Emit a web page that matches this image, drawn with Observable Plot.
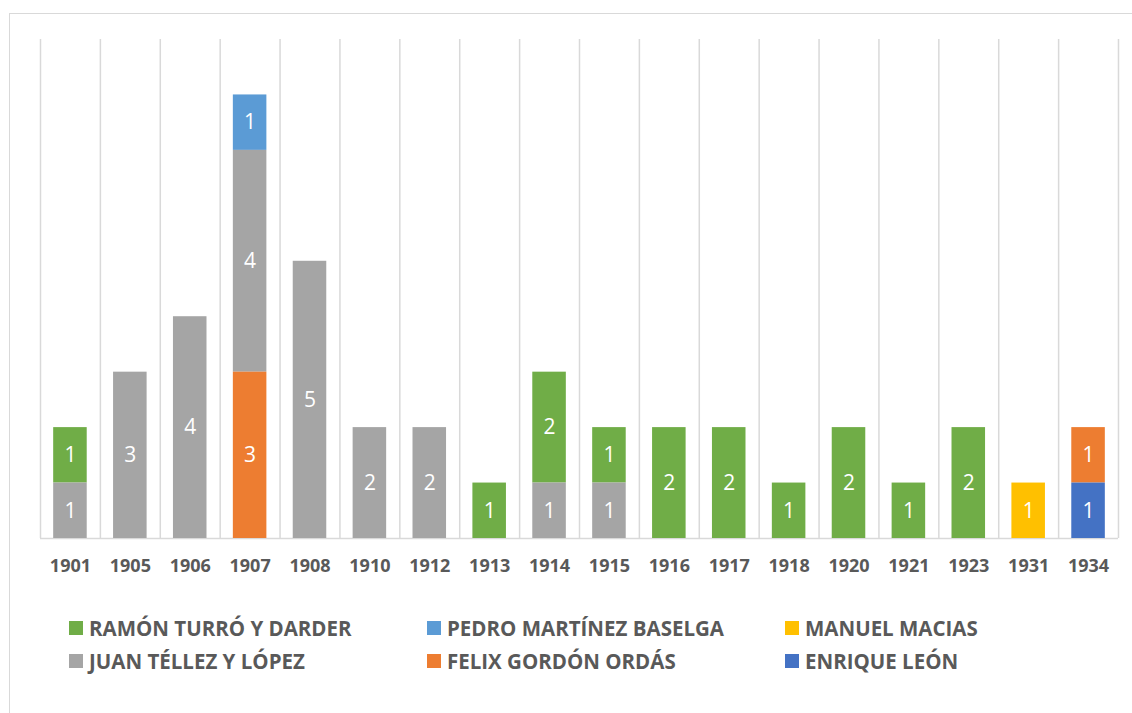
<!DOCTYPE html>
<html>
<head>
<meta charset="utf-8">
<script src="https://cdn.jsdelivr.net/npm/d3@7"></script>
<script src="https://cdn.jsdelivr.net/npm/@observablehq/plot@0.6"></script>
<style>
  html, body { margin: 0; padding: 0; background: #fff; overflow: hidden; width: 1132px; height: 713px; }
  #frame { position: absolute; left: 9px; top: 13px; width: 1140px; height: 720px; border: 1.5px solid #d9d9d9; box-sizing: border-box; }
  #chart { position: absolute; left: 0; top: 0; }
  .leg { position: absolute; font-family: "Open Sans", sans-serif; font-weight: bold; font-size: 20.5px; color: #595959; white-space: nowrap; display: flex; align-items: center; height: 30px; }
  .leg .sw { width: 14px; height: 14px; margin-right: 6px; flex: none; }
</style>
</head>
<body>
<div id="frame"></div>
<div id="chart"></div>
<div id="legend"></div>
<script>
const years = ["1901","1905","1906","1907","1908","1910","1912","1913","1914","1915","1916","1917","1918","1920","1921","1923","1931","1934"];

const seriesNames = ["RAMÓN TURRÓ Y DARDER", "PEDRO MARTÍNEZ BASELGA", "MANUEL MACIAS", "JUAN TÉLLEZ Y LÓPEZ", "FELIX GORDÓN ORDÁS", "ENRIQUE LEÓN"];
const seriesColors = ["#70AD47", "#5B9BD5", "#FFC000", "#A5A5A5", "#ED7D31", "#4472C4"];
// stacking order, bottom to top
const stackOrder = ["ENRIQUE LEÓN", "MANUEL MACIAS", "FELIX GORDÓN ORDÁS", "JUAN TÉLLEZ Y LÓPEZ", "RAMÓN TURRÓ Y DARDER", "PEDRO MARTÍNEZ BASELGA"];

const ramon   = [1,0,0,0,0,0,0,1,2,1,2,2,1,2,1,2,0,0];
const pedro   = [0,0,0,1,0,0,0,0,0,0,0,0,0,0,0,0,0,0];
const manuel  = [0,0,0,0,0,0,0,0,0,0,0,0,0,0,0,0,1,0];
const juan    = [1,3,4,4,5,2,2,0,1,1,0,0,0,0,0,0,0,0];
const felix   = [0,0,0,3,0,0,0,0,0,0,0,0,0,0,0,0,0,1];
const enrique = [0,0,0,0,0,0,0,0,0,0,0,0,0,0,0,0,0,1];

const yMax = 9;

const seriesValues = [ramon, pedro, manuel, juan, felix, enrique];
const table = [];
seriesNames.forEach((name, s) => {
  years.forEach((yr, i) => {
    const v = seriesValues[s][i];
    if (v > 0) table.push({year: yr, name, value: v});
  });
});

const W = 1132, H = 600, ML = 40, MR = 14, MT = 39, MB = 62;
const step = (W - ML - MR) / years.length;
const FONT = "Open Sans, sans-serif";

const chart = Plot.plot({
  width: W,
  height: H,
  marginLeft: ML,
  marginRight: MR,
  marginTop: MT,
  marginBottom: MB,
  style: {fontFamily: FONT, background: "transparent", overflow: "visible"},
  x: {domain: years, paddingInner: 0.44, paddingOuter: 0.22, round: false, label: null, tickSize: 0, tickPadding: 21},
  y: {domain: [0, yMax], axis: null},
  color: {domain: seriesNames, range: seriesColors},
  marks: [
    Plot.ruleX(years, {x: d => d, y1: 0, y2: yMax, stroke: "#d9d9d9", strokeWidth: 1.5, dx: -step / 2}),
    Plot.ruleX([years[years.length - 1]], {x: d => d, y1: 0, y2: yMax, stroke: "#d9d9d9", strokeWidth: 1.5, dx: step / 2}),
    Plot.ruleY([0], {stroke: "#d9d9d9", strokeWidth: 1.5}),
    Plot.barY(table, {x: "year", y: "value", fill: "name", order: stackOrder}),
    Plot.text(table, Plot.stackY({x: "year", y: "value", z: "name", order: stackOrder, text: d => String(d.value), fill: "white", fontSize: 21, fontFamily: FONT})),
    Plot.axisX({tickSize: 0, tickPadding: 21, fontSize: 18, fontWeight: "bold", fill: "#595959", fontFamily: FONT, label: null})
  ]
});
document.getElementById("chart").appendChild(chart);

// legend
const legendItems = ["RAMÓN TURRÓ Y DARDER", "PEDRO MARTÍNEZ BASELGA", "MANUEL MACIAS", "JUAN TÉLLEZ Y LÓPEZ", "FELIX GORDÓN ORDÁS", "ENRIQUE LEÓN"];
const colX = [69, 427, 785];
const rowY = [628, 661];
const legend = document.getElementById("legend");
legendItems.forEach((name, i) => {
  const el = document.createElement("div");
  el.className = "leg";
  el.style.left = colX[i % 3] + "px";
  el.style.top = (rowY[Math.floor(i / 3)] - 15) + "px";
  const sw = document.createElement("span");
  sw.className = "sw";
  sw.style.background = seriesColors[seriesNames.indexOf(name)];
  el.appendChild(sw);
  const t = document.createElement("span");
  t.textContent = name;
  el.appendChild(t);
  legend.appendChild(el);
});
</script>
</body>
</html>
